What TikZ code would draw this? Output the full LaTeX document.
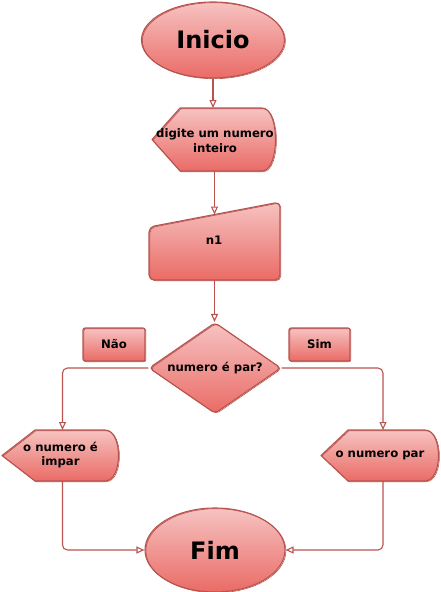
\documentclass[tikz,border=0pt]{standalone}
\usepackage{fontspec}
\setmainfont{DejaVu Sans}
\usetikzlibrary{arrows.meta,shapes.geometric,calc}
\definecolor{fillTop}{HTML}{F6C3C1}
\definecolor{fillBot}{HTML}{EA6B66}
\definecolor{strokeRed}{HTML}{B85450}
\begin{document}
\begin{tikzpicture}[x=1pt,y=-1pt,
  shp/.style={draw=strokeRed, line width=1.1pt, top color=fillTop, bottom color=fillBot, line join=round,
    postaction={draw=strokeRed, line width=0.6pt, transform canvas={shift={(0.9pt,-0.7pt)}}}},
  lbl/.style={font=\bfseries\fontsize{11.7}{14.5}\selectfont, align=center, text=black, inner sep=0pt},
  big/.style={font=\bfseries\fontsize{24}{28}\selectfont, text=black, inner sep=0pt},
  frame/.style={inner sep=0pt, outer sep=0pt},
  conn/.style={draw=strokeRed, line width=1.1pt, rounded corners=5pt, -{Triangle[open,length=8pt,width=7pt]}}
]
\useasboundingbox (0,0) rectangle (441,592);

% Inicio
\node[shp, ellipse, minimum width=143pt, minimum height=76pt, big] (inicio) at (213,40) {Inicio};

% display: digite um numero inteiro
\node[frame, minimum width=125pt, minimum height=63pt] (dig) at (214.5,139.5) {};
\path[shp] (dig.west) -- ($(dig.north west)+(28,0)$) -- ($(dig.north east)+(-15,0)$)
  .. controls ($(dig.north east)+(3,0)$) and ($(dig.south east)+(3,0)$) .. ($(dig.south east)+(-15,0)$)
  -- ($(dig.south west)+(28,0)$) -- cycle;
\node[lbl] (digT) at ($(dig.center)+(0.5,1)$) {digite um numero\\inteiro};

% manual input n1
\node[frame, minimum width=131pt, minimum height=78pt] (n1) at (214.5,241) {};
\path[shp, rounded corners=5pt] (n1.south west) -- ($(n1.north west)+(0,25)$) -- (n1.north east) -- (n1.south east) -- cycle;
\node[lbl] (n1T) at (214,240.5) {n1};
\coordinate (n1top) at (214.5,214.5);

% decision
\node[shp, diamond, aspect=1.45, rounded corners=4pt, minimum width=132pt, minimum height=91pt, lbl] (dia) at (215,368) {numero é par?};

% labels
\node[shp, rounded corners=2pt, minimum width=62pt, minimum height=33pt, lbl] (nao) at (114,344.5) {Não};
\node[shp, rounded corners=2pt, minimum width=61pt, minimum height=33pt, lbl] (sim) at (319.5,344.5) {Sim};

% display: o numero e impar
\node[frame, minimum width=118pt, minimum height=51pt] (imp) at (61,455.5) {};
\path[shp] (imp.west) -- ($(imp.north west)+(33,0)$) -- ($(imp.north east)+(-15,0)$)
  .. controls ($(imp.north east)+(3,0)$) and ($(imp.south east)+(3,0)$) .. ($(imp.south east)+(-15,0)$)
  -- ($(imp.south west)+(33,0)$) -- cycle;
\node[lbl] (impT) at (60.5,455) {o numero é\\impar};
\coordinate (impin) at (62.5,430);
\coordinate (impout) at (62.5,481);

% display: o numero par
\node[frame, minimum width=119pt, minimum height=51pt] (par) at (380.5,455.5) {};
\path[shp] (par.west) -- ($(par.north west)+(27,0)$) -- ($(par.north east)+(-15,0)$)
  .. controls ($(par.north east)+(3,0)$) and ($(par.south east)+(3,0)$) .. ($(par.south east)+(-15,0)$)
  -- ($(par.south west)+(27,0)$) -- cycle;
\node[lbl] (parT) at (380,455) {o numero par};
\coordinate (parin) at (383,430);
\coordinate (parout) at (383,481);

% Fim
\node[shp, ellipse, minimum width=140pt, minimum height=84pt, big] (fim) at (215,550) {Fim};

% connectors
\draw[conn] (inicio.south) -- (inicio.south |- dig.north);
\draw[conn] (dig.south) -- (n1top);
\draw[conn] (n1.south) -- (n1.south |- dia.north);
\draw[conn] (dia.west) -| (impin);
\draw[conn] (dia.east) -| (parin);
\draw[conn] (impout) |- (fim.west);
\draw[conn] (parout) |- (fim.east);
\end{tikzpicture}
\end{document}
